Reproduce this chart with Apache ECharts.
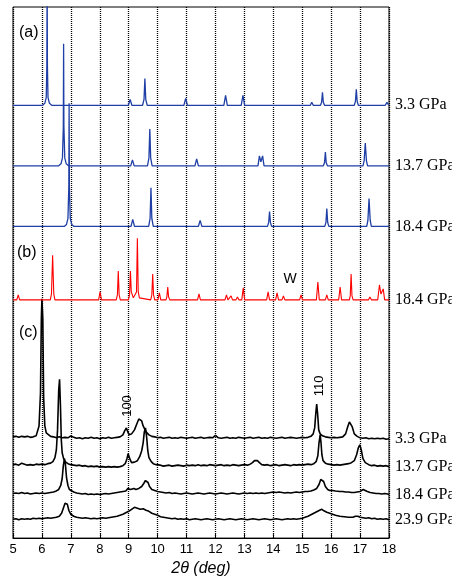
<!DOCTYPE html>
<html><head><meta charset="utf-8">
<script src="https://cdn.jsdelivr.net/npm/echarts@6/dist/echarts.min.js"></script>
<style>html,body{margin:0;padding:0;background:#fff}#c{width:452px;height:582px}</style>
</head><body><div id="c"></div>
<script>
// x-axis tick values (2θ, deg)
const xTicks = [5,6,7,8,9,10,11,12,13,14,15,16,17,18];
const xTitle = '2θ (deg)';

// trace labels
const namesA = ['3.3 GPa','13.7 GPa','18.4 GPa'];
const nameB = '18.4 GPa';
const namesC = ['3.3 GPa','13.7 GPa','18.4 GPa','23.9 GPa'];

// vertical offsets of each trace (stacking)
const offsetsA = [436, 375, 314];
const offsetB = 240;
const offsetsC = [101, 74, 45, 19];

// (a) calculated patterns: [2θ, intensity]
const a33 = [[5,0],[6.02,0],[6.1,2],[6.15,8],[6.17,40],[6.18,130],[6.19,40],[6.21,8],[6.26,2],[6.34,0],
[8.99,0],[9.05,6],[9.11,0],[9.48,0],[9.53,6],[9.56,27],[9.59,6],[9.64,0],[10.91,0],[10.97,7],[11.03,0],
[12.29,0],[12.35,10],[12.41,0],[12.89,0],[12.95,10],[13.01,0],[15.28,0],[15.33,3],[15.38,0],
[15.63,0],[15.67,3],[15.70,13],[15.73,3],[15.77,0],[16.80,0],[16.84,4],[16.87,16],[16.90,4],[16.94,0],
[17.87,0],[17.93,3],[17.99,0],[18,0]];
const a137 = [[5,0],[6.58,0],[6.66,2],[6.71,8],[6.74,40],[6.75,123],[6.76,40],[6.79,8],[6.84,2],[6.92,0],
[9.07,0],[9.13,6],[9.19,0],[9.65,0],[9.70,8],[9.73,37],[9.76,8],[9.81,0],[11.29,0],[11.35,7],[11.41,0],
[13.47,0],[13.52,10],[13.57,4],[13.63,10],[13.68,0],[15.73,0],[15.77,3],[15.80,14],[15.83,3],[15.87,0],
[16.29,0],[16.33,2],[16.37,0],[17.10,0],[17.14,5],[17.18,23],[17.22,5],[17.26,0],[18,0]];
const a184 = [[5,0],[6.77,0],[6.85,2],[6.90,8],[6.93,40],[6.94,124],[6.95,40],[6.98,8],[7.03,2],[7.11,0],
[9.08,0],[9.14,7],[9.20,0],[9.69,0],[9.74,8],[9.77,39],[9.80,8],[9.85,0],[11.41,0],[11.47,6],[11.53,0],
[13.80,0],[13.84,4],[13.87,15],[13.90,4],[13.94,0],[15.78,0],[15.82,4],[15.85,18],[15.88,4],[15.92,0],
[16.61,0],[16.65,2],[16.69,0],[17.23,0],[17.27,6],[17.31,28],[17.35,6],[17.39,0],[18,0]];

// (b) pattern with W
const b184 = [[5,0],[5.13,0],[5.18,5],[5.23,0],[6.29,0],[6.33,6],[6.37,45],[6.41,6],[6.45,0],
[7.96,0],[8.01,8],[8.06,0],[8.57,0],[8.61,5],[8.64,29],[8.67,5],[8.71,0],
[8.99,0],[9.03,5],[9.06,29],[9.09,8],[9.16,2],[9.22,3],[9.27,8],[9.30,62],[9.33,8],[9.37,2],[9.40,0],
[9.76,0],[9.80,5],[9.83,26],[9.86,5],[9.90,0],[10.01,0],[10.06,7],[10.11,0],
[10.29,0],[10.32,3],[10.35,13],[10.38,3],[10.42,0],[11.10,0],[11.15,2],[11.20,0],[11.38,0],[11.43,6],[11.48,0],
[12.33,0],[12.38,5],[12.43,0],[12.49,0],[12.54,4],[12.59,0],[12.71,0],[12.76,3],[12.81,0],
[12.91,0],[12.96,12],[13.01,0],[13.77,0],[13.82,8],[13.87,0],[14.08,0],[14.13,7],[14.18,0],
[14.30,0],[14.35,4],[14.40,0],[14.91,0],[14.96,5],[15.01,0],[15.49,0],[15.54,18],[15.59,0],
[15.80,0],[15.85,5],[15.90,0],[16.26,0],[16.31,13],[16.36,0],[16.63,0],[16.66,4],[16.69,26],[16.72,4],[16.76,0],
[17.29,0],[17.34,3],[17.39,0],[17.61,0],[17.67,15],[17.72,6],[17.76,5],[17.80,11],[17.85,0],[18,0]];

// (c) measured patterns
const c33 = [[5.0,1],[5.1,1.5],[5.2,0.5],[5.3,1.5],[5.35,3],[5.4,1],[5.5,1.5],[5.6,0.5],[5.7,1],[5.8,2],[5.85,4],[5.9,12],[5.95,45],[5.98,120],[6.0,140],[6.03,120],[6.06,40],[6.1,12],[6.15,5],[6.2,3],[6.3,1.5],[6.4,1],[6.5,0],[6.6,1],[6.7,0],[6.8,0.5],[6.9,0],[7.0,2],[7.05,0],[7.1,0.5],[7.2,-0.5],[7.3,0],[7.4,-1],[7.5,0],[7.6,-0.5],[7.7,0.5],[7.8,-0.5],[7.9,0],[8.0,-1],[8.1,0],[8.2,-0.5],[8.3,0.5],[8.4,-0.5],[8.5,0],[8.6,0.5],[8.7,1],[8.8,3],[8.86,7],[8.92,10],[8.97,6],[9.02,3],[9.1,4],[9.2,8],[9.28,14],[9.35,19],[9.4,20],[9.45,17],[9.5,12],[9.55,11],[9.6,6],[9.7,3],[9.8,1.5],[9.9,1],[10.0,0],[10.1,0.5],[10.2,-0.5],[10.3,0],[10.4,0.5],[10.5,-0.5],[10.6,0],[10.7,-0.5],[10.8,0.5],[10.9,0],[11.0,-0.5],[11.1,0],[11.2,0.5],[11.3,-0.5],[11.4,0],[11.5,0.5],[11.6,-0.5],[11.7,0],[11.8,0.5],[11.9,0],[12.0,2.5],[12.05,0.5],[12.1,0],[12.2,-0.5],[12.3,0],[12.4,0.5],[12.5,-0.5],[12.6,0],[12.7,-0.5],[12.8,0.5],[12.9,0],[13.0,-0.5],[13.1,0],[13.2,0.5],[13.3,-0.5],[13.4,0],[13.5,0.5],[13.6,-0.5],[13.7,0],[13.8,-0.5],[13.9,0.5],[14.0,0],[14.1,-0.5],[14.2,0],[14.3,0.5],[14.4,-0.5],[14.5,0],[14.6,0.5],[14.7,0],[14.8,-0.5],[14.9,0],[15.0,0.5],[15.1,0],[15.2,0.5],[15.3,1.5],[15.38,4],[15.43,10],[15.47,25],[15.5,34],[15.53,25],[15.57,8],[15.62,4],[15.7,2],[15.8,1],[15.9,0.5],[16.0,0],[16.1,0.5],[16.2,0],[16.3,0.5],[16.4,1],[16.5,4],[16.57,11],[16.63,16],[16.68,17],[16.73,11],[16.8,4],[16.9,1.5],[17.0,0],[17.1,-0.5],[17.2,0],[17.3,-1],[17.4,-0.5],[17.5,-1],[17.6,-0.5],[17.7,-1],[17.8,-0.5],[17.9,-1.5],[18.0,-1]];
const c137 = [[5.0,0],[5.1,0.5],[5.2,-0.5],[5.3,1.5],[5.35,0],[5.4,0.5],[5.5,-0.5],[5.6,0],[5.7,-0.5],[5.8,0.5],[5.9,0],[6.0,0.5],[6.1,0],[6.2,1],[6.3,1.5],[6.38,3],[6.45,7],[6.5,15],[6.54,35],[6.58,75],[6.61,86],[6.64,60],[6.67,25],[6.7,12],[6.75,6],[6.8,3],[6.9,1],[7.0,0],[7.1,-0.5],[7.2,-1],[7.3,-0.5],[7.4,-1.5],[7.5,-1],[7.6,-2],[7.7,-1.5],[7.8,-2],[7.9,-1.5],[8.0,-2.5],[8.1,-2],[8.2,-2.5],[8.3,-2],[8.4,-2.5],[8.5,-2],[8.6,-2.5],[8.7,-2],[8.8,-1],[8.88,1],[8.94,6],[8.98,11],[9.01,12],[9.05,5],[9.1,2],[9.2,2.5],[9.3,4],[9.38,8],[9.45,14],[9.5,22],[9.54,33],[9.58,37],[9.62,28],[9.66,14],[9.7,7],[9.78,3],[9.85,1],[9.95,0],[10.0,-1],[10.1,-0.5],[10.2,-1.5],[10.3,-1],[10.4,-0.5],[10.5,-1.5],[10.6,-1],[10.7,-0.5],[10.8,-1],[10.9,-1.5],[11.0,-0.5],[11.1,-1],[11.2,-0.5],[11.3,-1],[11.4,0],[11.5,-1],[11.6,-0.5],[11.7,-1],[11.8,0],[11.9,-0.5],[12.0,-1],[12.1,-0.5],[12.2,0],[12.3,-1],[12.4,-0.5],[12.5,-1],[12.6,0],[12.7,-0.5],[12.8,-1],[12.9,-0.5],[13.0,0],[13.1,-0.5],[13.2,0.5],[13.28,2],[13.35,4],[13.4,5],[13.45,4],[13.52,2],[13.6,0],[13.7,-0.5],[13.8,0],[13.9,-1],[14.0,-0.5],[14.1,0],[14.2,-1],[14.3,-0.5],[14.4,0],[14.5,-0.5],[14.6,-1],[14.7,0],[14.8,-0.5],[14.9,0],[15.0,-0.5],[15.1,0],[15.2,0.5],[15.3,0],[15.4,1],[15.48,3],[15.54,9],[15.58,22],[15.62,30],[15.65,22],[15.68,10],[15.72,4],[15.8,1.5],[15.9,0.5],[16.0,0],[16.1,-0.5],[16.2,0],[16.3,-0.5],[16.4,0],[16.5,0.5],[16.6,1],[16.7,2],[16.8,4],[16.88,10],[16.94,17],[16.99,20],[17.04,15],[17.1,6],[17.18,2],[17.3,0],[17.4,-1],[17.5,-0.5],[17.6,-1.5],[17.7,-1],[17.8,-1.5],[17.9,-1],[18.0,-2]];
const c184 = [[5.0,0],[5.1,0.5],[5.2,0],[5.3,1],[5.4,0],[5.5,0.5],[5.6,-0.5],[5.7,0],[5.8,0.5],[5.9,0],[6.0,0.5],[6.1,0],[6.2,0.5],[6.3,1],[6.4,1.5],[6.5,2.5],[6.58,4],[6.65,8],[6.7,15],[6.74,28],[6.78,35],[6.81,30],[6.85,16],[6.9,8],[6.95,4],[7.0,2.5],[7.1,1.5],[7.2,0.5],[7.3,0],[7.4,-0.5],[7.5,0],[7.6,-1],[7.7,-0.5],[7.8,-1],[7.9,-0.5],[8.0,-1],[8.1,-0.5],[8.2,0],[8.3,-0.5],[8.4,0],[8.5,0.5],[8.6,1],[8.7,1.5],[8.8,2],[8.9,2.5],[8.97,5],[9.02,7],[9.06,4],[9.1,4],[9.18,5],[9.25,4],[9.35,5],[9.45,7],[9.52,10],[9.58,13],[9.62,14],[9.67,11],[9.72,7],[9.8,4],[9.9,3],[10.0,2],[10.1,1.5],[10.2,1],[10.3,0.5],[10.4,1],[10.5,0],[10.6,0.5],[10.7,0],[10.8,-0.5],[10.9,0],[11.0,0.5],[11.1,0],[11.2,-0.5],[11.3,0],[11.4,0.5],[11.5,0],[11.6,-0.5],[11.7,0],[11.8,0.5],[11.9,0],[12.0,-0.5],[12.1,0],[12.2,0.5],[12.3,0],[12.4,-0.5],[12.5,0],[12.6,0.5],[12.7,0],[12.8,-0.5],[12.9,0],[13.0,0.5],[13.1,0],[13.2,0.5],[13.3,0],[13.4,0.5],[13.5,0],[13.6,0.5],[13.7,0],[13.8,0.5],[13.9,1],[14.0,1.5],[14.1,1],[14.2,1.5],[14.3,1],[14.4,0.5],[14.5,1],[14.6,0.5],[14.7,1],[14.8,1.5],[14.9,1],[15.0,1.5],[15.1,2],[15.2,2],[15.3,2.5],[15.4,3.5],[15.5,5],[15.58,9],[15.64,14],[15.69,16],[15.74,12],[15.8,7],[15.88,4],[15.95,3],[16.05,3],[16.15,2.5],[16.3,2],[16.4,2],[16.5,1.5],[16.6,1.5],[16.7,1],[16.8,1],[16.9,1.5],[17.0,2],[17.06,3],[17.11,4],[17.17,3],[17.25,2],[17.35,1],[17.45,0.5],[17.55,0],[17.65,0],[17.75,-0.5],[17.85,0],[17.95,-0.5],[18.0,-1]];
const c239 = [[5.0,0],[5.1,0.5],[5.2,-0.5],[5.3,0.5],[5.4,0],[5.5,0.5],[5.6,0],[5.7,1],[5.8,0.5],[5.9,1],[6.0,0.5],[6.1,1],[6.2,1.5],[6.3,1],[6.4,1.5],[6.5,2],[6.6,3],[6.68,6],[6.74,11],[6.8,16],[6.84,18],[6.88,15],[6.93,9],[7.0,5],[7.1,3],[7.2,2],[7.3,1.5],[7.4,1],[7.5,1.5],[7.6,1],[7.7,0.5],[7.8,1],[7.9,0.5],[8.0,1],[8.1,1.5],[8.2,1],[8.3,1.5],[8.4,2],[8.5,2.5],[8.6,3],[8.7,4],[8.8,5],[8.9,6.5],[9.0,8],[9.1,10],[9.2,12],[9.25,12.5],[9.3,11],[9.4,10],[9.5,10.5],[9.6,9],[9.7,8],[9.8,6],[9.9,5],[10.0,4],[10.1,2.5],[10.2,2],[10.3,1.5],[10.4,1],[10.5,0.5],[10.6,1],[10.7,0],[10.8,0.5],[10.9,0],[11.0,0.5],[11.1,-0.5],[11.2,0],[11.3,0.5],[11.4,0],[11.5,-0.5],[11.6,0],[11.7,0.5],[11.8,0],[11.9,-0.5],[12.0,0],[12.1,0.5],[12.2,0],[12.3,-0.5],[12.4,0],[12.5,0.5],[12.6,0],[12.7,-0.5],[12.8,0],[12.9,0.5],[13.0,0],[13.1,-0.5],[13.2,0],[13.3,0.5],[13.4,0],[13.5,-0.5],[13.6,0],[13.7,0.5],[13.8,0],[13.9,-0.5],[14.0,0],[14.1,0.5],[14.2,0],[14.3,-0.5],[14.4,0],[14.5,0.5],[14.6,0],[14.7,0.5],[14.8,0],[14.9,0.5],[15.0,1],[15.1,2],[15.2,3],[15.3,4.5],[15.4,6],[15.5,7.5],[15.6,9],[15.68,10],[15.75,8.5],[15.85,7],[15.95,6],[16.05,5],[16.15,4],[16.3,3],[16.45,2.5],[16.6,2],[16.75,2],[16.84,3],[16.88,5],[16.92,3],[17.0,2],[17.1,1.5],[17.2,1],[17.3,1.5],[17.4,0.5],[17.5,1],[17.6,0],[17.7,0.5],[17.8,0],[17.9,0.5],[18.0,-0.5]];

const tracesA = [a33, a137, a184];
const tracesC = [c33, c137, c184, c239];

const chart = echarts.init(document.getElementById('c'), null, {renderer:'canvas'});
const labelFont = {fontFamily:'Liberation Serif', fontSize:16, color:'#000'};

function mk(name, pts, off, color, width, z){
  return {
    type:'line', name:name, data: pts.map(p=>[p[0], p[1]+off]),
    symbol:'none', showSymbol:false, clip:true, silent:true, z:z,
    lineStyle:{color:color, width:width},
    endLabel:{show:true, formatter:name, distance:6, ...labelFont},
    emphasis:{disabled:true}, animation:false
  };
}

const series = [];
tracesC.forEach((t,i)=>series.push(mk(namesC[i], t, offsetsC[i], '#000', 1.6, 2)));
tracesA.forEach((t,i)=>series.push(mk(namesA[i], t, offsetsA[i], '#1f3fa6', 1.3, 3)));
series.push(mk(nameB, b184, offsetB, '#ff0000', 1.1, 4));

const sans = 'Liberation Sans';
chart.setOption({
  animation:false,
  backgroundColor:'#fff',
  grid:{left:13, right:63, top:7, bottom:40, show:true, borderColor:'#000', borderWidth:1, backgroundColor:'transparent'},
  xAxis:{type:'value', min:xTicks[0], max:xTicks[xTicks.length-1], interval:1,
    axisLine:{show:true, lineStyle:{color:'#000', width:1}},
    axisTick:{show:true, inside:true, length:4, lineStyle:{color:'#000'}},
    axisLabel:{color:'#000', fontFamily:sans, fontSize:13, margin:5},
    splitLine:{show:true, lineStyle:{color:'#000', width:1.3, type:[1,1]}},
    name:xTitle, nameLocation:'middle', nameGap:19,
    nameTextStyle:{color:'#000', fontFamily:sans, fontSize:16, fontStyle:'italic'}},
  yAxis:{type:'value', min:0, max:535, show:false, splitLine:{show:false}},
  series:series,
  graphic:[
    {type:'text', left:19, top:25, style:{text:'(a)', font:'16px Liberation Sans', fill:'#000'}},
    {type:'text', left:17, top:245, style:{text:'(b)', font:'16px Liberation Sans', fill:'#000'}},
    {type:'text', left:19, top:325, style:{text:'(c)', font:'16px Liberation Sans', fill:'#000'}},
    {type:'text', x:290, y:279, style:{text:'W', font:'14px Liberation Sans', fill:'#000', align:'center', verticalAlign:'middle'}},
    {type:'text', x:127, y:406, rotation:Math.PI/2, style:{text:'100', font:'13px Liberation Sans', fill:'#000', align:'center', verticalAlign:'middle'}},
    {type:'text', x:319, y:386, rotation:Math.PI/2, style:{text:'110', font:'13px Liberation Sans', fill:'#000', align:'center', verticalAlign:'middle'}}
  ]
});
</script></body></html>
